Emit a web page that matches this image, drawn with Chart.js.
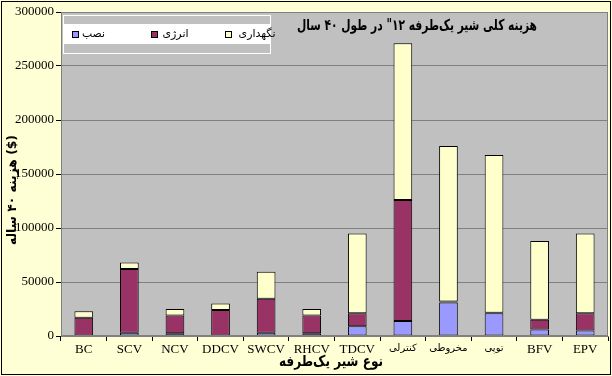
<!DOCTYPE html>
<html><head><meta charset="utf-8">
<script src="https://cdn.jsdelivr.net/npm/chart.js@4/dist/chart.umd.min.js"></script>
<style>
html,body{margin:0;padding:0;background:#fff;}
#wrap{width:612px;height:376px;position:relative;}
canvas{display:block;}
</style></head>
<body><div id="wrap"><canvas id="c" width="612" height="376"></canvas></div>
<script>
const categories = ["BC","SCV","NCV","DDCV","SWCV","RHCV","TDCV","کنترلی","مخروطی","توپی","BFV","EPV"];
const installCost = [500, 3000, 2500, 500, 3000, 2500, 9000, 14000, 31000, 21000, 6000, 5000];
const energyCost  = [16500, 59000, 16500, 23500, 31500, 16500, 12000, 112000, 1000, 600, 9000, 16000];
const maintCost   = [6000, 6000, 6000, 6000, 25000, 6000, 74000, 145000, 144000, 146000, 73000, 74000];
const yTicks = [0, 50000, 100000, 150000, 200000, 250000, 300000];
const seriesNames = ["نصب", "انرژی", "نگهداری"];
const titleText = "هزینه کلی شیر یک‌طرفه ۱۲\" در طول ۴۰ سال";
const xTitleText = "نوع شیر یک‌طرفه";
const yTitleText = "هزینه ۴۰ ساله ($)";

const colors = ["#9999FF", "#993366", "#FFFFCC"];
const persianIdx = [7,8,9];

function fitText(ctx, text, cx, cy, targetW) {
  const w = ctx.measureText(text).width;
  const sx = Math.min(1, targetW / w);
  ctx.save();
  ctx.translate(cx, cy);
  ctx.scale(sx, 1);
  ctx.textAlign = 'center';
  ctx.fillText(text, 0, 0);
  ctx.restore();
}

const bgPlugin = {
  id: 'bg',
  beforeDraw(chart) {
    const ctx = chart.ctx, a = chart.chartArea;
    ctx.save();
    ctx.fillStyle = '#FFFFD6';
    ctx.fillRect(0,0,chart.width,chart.height);
    ctx.strokeStyle = '#000';
    ctx.lineWidth = 1;
    ctx.strokeRect(1.5,1.5,chart.width-3,chart.height-3);
    ctx.fillStyle = '#C0C0C0';
    ctx.fillRect(a.left,a.top,a.right-a.left,a.bottom-a.top);
    ctx.restore();
  },
  afterDraw(chart) {
    const ctx = chart.ctx, a = chart.chartArea;
    ctx.save();
    ctx.strokeStyle = '#808080';
    ctx.lineWidth = 1;
    ctx.strokeRect(a.left+0.5,a.top+0.5,a.right-a.left-1,a.bottom-a.top-1);
    // legend
    ctx.fillStyle = '#FFFFFF';
    ctx.fillRect(64,24,206,20);
    ctx.strokeStyle = '#FFFFFF';
    ctx.strokeRect(63.5,15.5,207,38);
    const items = [{x:72,t:seriesNames[0],c:colors[0],w:23},{x:151,t:seriesNames[1],c:colors[1],w:29},{x:225,t:seriesNames[2],c:colors[2],w:44}];
    ctx.font = '11px "DejaVu Sans"';
    ctx.textBaseline = 'middle';
    items.forEach(it=>{
      ctx.fillStyle = it.c;
      ctx.fillRect(it.x,31,6,6);
      ctx.strokeStyle='#000';
      ctx.strokeRect(it.x+0.5,31.5,6,6);
      ctx.fillStyle='#000';
      fitText(ctx, it.t, it.x+10+it.w/2, 34, it.w);
    });
    // title
    ctx.font = 'bold 15px "DejaVu Sans"';
    fitText(ctx, titleText, 417, 26, 240);
    // x title
    fitText(ctx, xTitleText, 331, 362, 104);
    // y title
    ctx.translate(13,190);
    ctx.rotate(-Math.PI/2);
    ctx.font = 'bold 13px "DejaVu Sans"';
    fitText(ctx, yTitleText, 0, 0, 110);
    ctx.restore();
  }
};

const mk = (label, data, i) => ({
  label, data, backgroundColor: colors[i], borderColor: '#000', borderWidth: 1,
  categoryPercentage: 1.0, barPercentage: 0.41, borderSkipped: false
});

new Chart(document.getElementById('c'), {
  type: 'bar',
  data: {
    labels: categories,
    datasets: [mk(seriesNames[0], installCost, 0), mk(seriesNames[1], energyCost, 1), mk(seriesNames[2], maintCost, 2)]
  },
  options: {
    responsive: false, animation: false,
    layout: { padding: { top: 12, right: 4, bottom: 2, left: 0 } },
    plugins: { legend: { display: false }, title: { display: false }, tooltip: { enabled: false } },
    scales: {
      x: {
        stacked: true, offset: true,
        grid: { drawOnChartArea: false, offset: true, tickLength: 5, color: '#000' },
        border: { color: '#808080' },
        ticks: {
          color: '#000', padding: 1, maxRotation: 0, autoSkip: false,
          font: (c) => persianIdx.includes(c.index) ? { family: '"DejaVu Sans"', size: 10 } : { family: '"Liberation Serif"', size: 13 }
        },
        afterFit(s) { s.height = 38; }
      },
      y: {
        stacked: true, min: 0, max: 300000,
        afterBuildTicks(s) { s.ticks = yTicks.map(v => ({ value: v })); },
        grid: { color: '#808080', tickLength: 5, tickColor: '#000' },
        border: { color: '#808080' },
        ticks: { color: '#000', padding: 2, font: { family: '"Liberation Serif"', size: 13 }, callback: v => String(v) },
        afterFit(s) { s.width = 61; }
      }
    }
  },
  plugins: [bgPlugin]
});
</script></body></html>
